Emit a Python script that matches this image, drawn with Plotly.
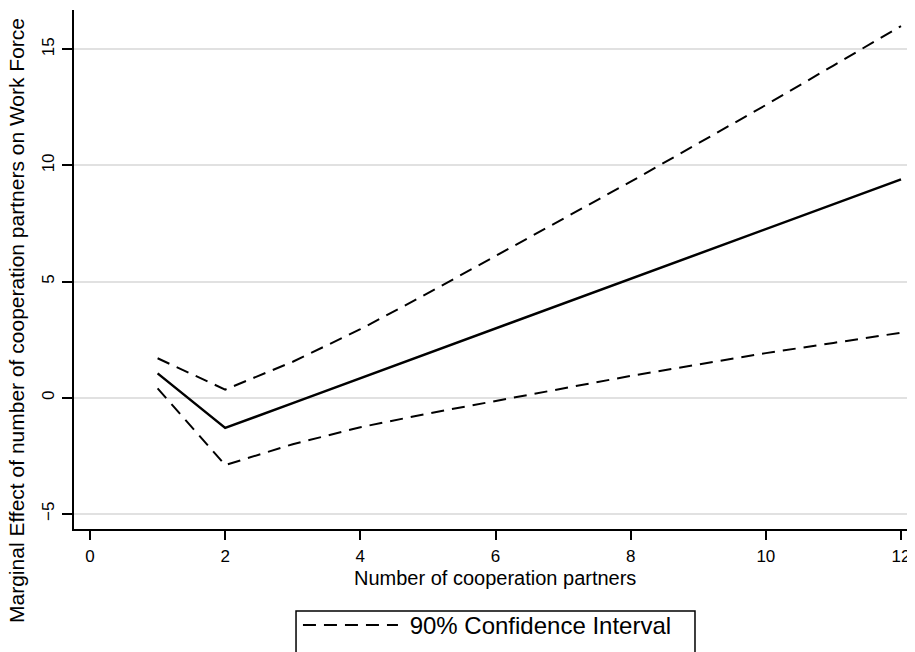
import plotly.graph_objects as go

partners = [1, 2, 3, 4, 5, 6, 7, 8, 9, 10, 11, 12]
effect = [1.05, -1.3, -0.23, 0.84, 1.91, 2.98, 4.05, 5.12, 6.19, 7.26, 8.33, 9.4]
ci_upper = [1.7, 0.35, 1.55, 2.95, 4.5, 6.1, 7.7, 9.3, 10.95, 12.6, 14.3, 16.0]
ci_lower = [0.4, -2.9, -2.0, -1.27, -0.68, -0.14, 0.4, 0.94, 1.43, 1.92, 2.36, 2.8]

x_ticks = [0, 2, 4, 6, 8, 10, 12]
y_ticks = [-5, 0, 5, 10, 15]

FONT = "Liberation Sans, Arial, sans-serif"
DASH = "13px,8px"

fig = go.Figure()
fig.add_trace(go.Scatter(x=partners, y=effect, mode="lines",
                         line=dict(color="black", width=2.5),
                         showlegend=False))
fig.add_trace(go.Scatter(x=partners, y=ci_upper, mode="lines",
                         line=dict(color="black", width=2, dash=DASH),
                         name="\u00a090% Confidence Interval", showlegend=True))
fig.add_trace(go.Scatter(x=partners, y=ci_lower, mode="lines",
                         line=dict(color="black", width=2, dash=DASH),
                         showlegend=False))

fig.update_layout(
    width=907, height=644,
    margin=dict(l=66, r=0, t=2, b=123, autoexpand=False),
    paper_bgcolor="white", plot_bgcolor="white",
    font=dict(family=FONT, color="black"),
    xaxis=dict(range=[-0.237, 12.207], tickvals=x_ticks, showgrid=False,
               zeroline=False, showline=True, linecolor="black", linewidth=2,
               ticks="outside", ticklen=9, tickwidth=2, tickcolor="black",
               ticklabelstandoff=2, automargin=False,
               tickfont=dict(size=17, family=FONT)),
    yaxis=dict(range=[-5.65, 16.69], tickvals=y_ticks, showgrid=True,
               gridcolor="#e1e1e1", gridwidth=1.5,
               zeroline=False, showline=True, linecolor="black", linewidth=2,
               ticks="outside", ticklen=10, tickwidth=2, tickcolor="black",
               tickangle=-90, ticklabelstandoff=1, automargin=False,
               tickfont=dict(size=17, family=FONT)),
    legend=dict(x=0.2663, xanchor="left", y=-0.1426, yanchor="top",
                borderwidth=0, bgcolor="rgba(0,0,0,0)",
                font=dict(size=24, family=FONT), itemwidth=95),
    shapes=[
        dict(type="rect", xref="paper", yref="paper",
             x0=0.264, x1=0.7384, y0=-0.158, y1=-0.287,
             line=dict(color="black", width=1.5), fillcolor="rgba(0,0,0,0)"),
    ],
    annotations=[
        dict(text="Number of cooperation partners", xref="paper", yref="paper",
             x=0.5, y=-0.0944, xanchor="center", yanchor="middle",
             showarrow=False, font=dict(size=20, family=FONT)),
        dict(text="Marginal Effect of number of cooperation partners on Work Force",
             xref="paper", yref="paper", x=-0.0678, y=0.4027, xanchor="center",
             yanchor="middle", textangle=-90, showarrow=False,
             font=dict(size=21, family=FONT)),
    ],
)

fig.write_html("out.html")
